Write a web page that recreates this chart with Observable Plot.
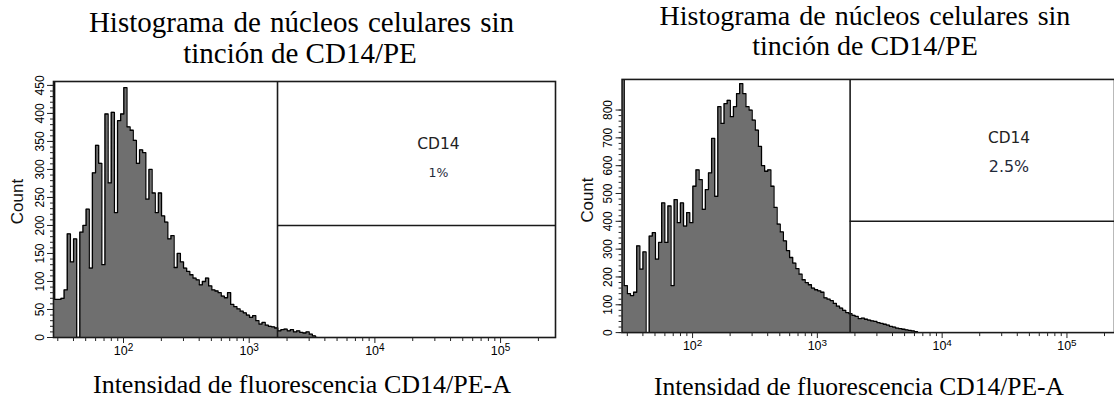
<!DOCTYPE html>
<html><head><meta charset="utf-8">
<script src="https://cdn.jsdelivr.net/npm/d3@7"></script>
<script src="https://cdn.jsdelivr.net/npm/@observablehq/plot@0.6"></script>
<style>
html,body{margin:0;padding:0;background:#fff;}
body{width:1114px;height:402px;overflow:hidden;position:relative;}
.panel{position:absolute;top:70px;}
#overlay{position:absolute;left:0;top:0;pointer-events:none;}
</style></head><body>
<div id="left" class="panel" style="left:0px"></div>
<div id="right" class="panel" style="left:560px"></div>
<svg id="overlay" width="1114" height="402"></svg>
<script>
// ---------- data ----------
const titleLine1 = "Histograma de núcleos celulares sin";
const titleLine2 = "tinción de CD14/PE";
const xAxisLabel = "Intensidad de fluorescencia CD14/PE-A";
const yAxisLabel = "Count";
const gateName = "CD14";
const leftPercent = "1%";
const rightPercent = "2.5%";

// histogram bins: log10 of the fluorescence intensity of each bin start
const binStartLog = 1.44;
const binStepLog = 0.025;

const leftCounts = [460,68,68,70,85,185,135,176,0,188,200,229,124,294,343,311,130,399,276,402,
  223,387,399,446,376,370,352,311,335,330,247,300,258,223,258,217,206,176,182,125,
  150,135,124,118,112,106,103,94,100,106,92,85,83,80,74,71,80,59,55,51,
  47,44,40,36,39,30,24,27,22,20,19,17,12,14,15,12,14,10,12,9,
  8,10,6,3,0];
const rightCounts = [915,169,140,133,145,312,228,290,0,347,359,264,324,466,324,455,169,478,395,466,
  383,431,395,526,585,550,443,514,574,698,490,812,752,823,835,776,812,859,895,859,
  812,800,764,728,669,600,580,585,526,450,390,362,330,295,270,250,230,210,190,180,
  172,160,154,150,145,125,120,115,105,95,88,80,72,68,62,58,50,52,48,45,
  42,40,36,33,30,27,22,20,16,14,12,10,8,6,3,0];

const xMajorTicks = [1e2, 1e3, 1e4, 1e5];
const xMajorExponents = ["2", "3", "4", "5"];
const leftYTicks = [0,50,100,150,200,250,300,350,400,450];
const rightYTicks = [0,100,200,300,400,500,600,700,800];
const leftGate = {x: 1680, count: 200};
const rightGate = {x: 1830, count: 400};

// ---------- helpers ----------
const toRows = counts => counts.map((c, i) => ({x: Math.pow(10, binStartLog + i * binStepLog), count: c}));
function minorTicks(domain) {
  const out = [];
  for (let k = 1; k <= 5; k++) for (let m = 2; m <= 9; m++) {
    const v = m * Math.pow(10, k);
    if (v >= domain[0] && v <= domain[1]) out.push(v);
  }
  return out;
}
const range = (a, b, s) => { const r = []; for (let v = a; v <= b + 1e-9; v += s) r.push(v); return r; };

function panel(o) {
  const rows = toRows(o.counts);
  const fmt = d => "10^" + xMajorExponents[xMajorTicks.indexOf(d)];
  const svg = Plot.plot({
    width: o.width, height: o.height,
    marginLeft: o.ml, marginRight: o.mr, marginTop: o.mt, marginBottom: o.mb,
    style: {fontFamily: "'Liberation Sans', Arial, sans-serif", background: "transparent", color: "#000"},
    x: {type: "log", domain: o.xDomain, axis: null},
    y: {domain: [0, o.yMax], axis: null},
    marks: [
      Plot.areaY(rows, {x: "x", y: "count", curve: "step", fill: "#6f6f6f", clip: true}),
      Plot.lineY(rows, {x: "x", y: "count", curve: "step", stroke: "#000", strokeWidth: 1.3, clip: true}),
      Plot.ruleX([o.gate.x], {stroke: "#1a1a1a", strokeWidth: 1.6}),
      Plot.ruleY([o.gate.count], {x1: o.gate.x, x2: o.xDomain[1], stroke: "#1a1a1a", strokeWidth: 1.6}),
      Plot.frame({stroke: "#1a1a1a", strokeWidth: 1.6}),
      Plot.axisX(minorTicks(o.xDomain), {tickSize: 4, tickFormat: () => "", label: null, stroke: "#222"}),
      Plot.axisX(xMajorTicks.filter(v => v <= o.xDomain[1]), {tickSize: 6, tickPadding: 3, tickFormat: fmt, label: null, fontSize: 12.5, stroke: "#222"}),
      Plot.axisY(range(0, o.yTicks[o.yTicks.length - 1], o.yMinor), {tickSize: 3, tickFormat: () => "", label: null, stroke: "#222"}),
      Plot.axisY(o.yTicks, {tickSize: 6, tickFormat: () => "", label: null, stroke: "#222"}),
      Plot.text(o.yTicks, {y: d => d, text: d => String(d), frameAnchor: "left", textAnchor: "middle", lineAnchor: "middle", rotate: -90, dx: o.tickDx, fontSize: 12, fill: "#000"}),
      Plot.text([yAxisLabel], {frameAnchor: "left", textAnchor: "middle", lineAnchor: "middle", rotate: -90, dx: o.countDx, dy: o.countDy, fontSize: 17, fill: "#111"}),
      Plot.text([gateName], {x: [o.labelX], y: [o.nameY], text: d => d, fontFamily: "'DejaVu Sans', sans-serif", fontSize: 15.5, fill: "#222"}),
      Plot.text([o.pct], {x: [o.labelX], y: [o.pctY], text: d => d, fontFamily: "'DejaVu Sans', sans-serif", fontSize: o.pctSize, fill: "#1f2a3a"})
    ]
  });
  // render "10^k" tick labels with a real superscript
  d3.select(svg).selectAll("text").each(function() {
    const s = this.textContent;
    if (/^10\^\d$/.test(s)) {
      const t = d3.select(this);
      t.text("10");
      t.append("tspan").attr("dy", "-0.45em").attr("font-size", "0.8em").text(s.slice(3));
    }
  });
  return svg;
}

document.getElementById("left").append(panel({
  counts: leftCounts, width: 560, height: 300, ml: 53, mr: 5, mt: 11, mb: 33,
  xDomain: [Math.pow(10, 1.443), Math.pow(10, 5.437)], yMax: 457,
  yTicks: leftYTicks, yMinor: 10, gate: leftGate, tickDx: -13.5, countDx: -36, countDy: -8,
  labelX: 32000, nameY: 346, pctY: 294, pct: leftPercent, pctSize: 12.5
}));
document.getElementById("right").append(panel({
  counts: rightCounts, width: 558, height: 300, ml: 62, mr: 0, mt: 9, mb: 36,
  xDomain: [Math.pow(10, 1.435), Math.pow(10, 5.381)], yMax: 910,
  yTicks: rightYTicks, yMinor: 20, gate: rightGate, tickDx: -14, countDx: -35, countDy: -6,
  labelX: 34300, nameY: 700, pctY: 596, pct: rightPercent, pctSize: 16
}));

// titles and axis titles (outside the plot SVGs)
const ov = d3.select("#overlay");
const serif = "'Liberation Serif', 'Times New Roman', serif";
const texts = [
  {t: titleLine1, x: 301.5, y: 32, s: 29, ws: 2},
  {t: titleLine2, x: 300, y: 63, s: 29, ws: 0},
  {t: titleLine1, x: 865, y: 25, s: 28, ws: 2},
  {t: titleLine2, x: 865, y: 55, s: 28, ws: 0},
  {t: xAxisLabel, x: 302, y: 393, s: 26, ws: 0},
  {t: xAxisLabel, x: 859, y: 395, s: 25.5, ws: 0}
];
ov.selectAll("text").data(texts).join("text")
  .attr("x", d => d.x).attr("y", d => d.y)
  .attr("text-anchor", "middle").attr("font-family", serif)
  .attr("word-spacing", d => d.ws)
  .attr("font-size", d => d.s).attr("fill", "#000").text(d => d.t);
</script>
</body></html>
